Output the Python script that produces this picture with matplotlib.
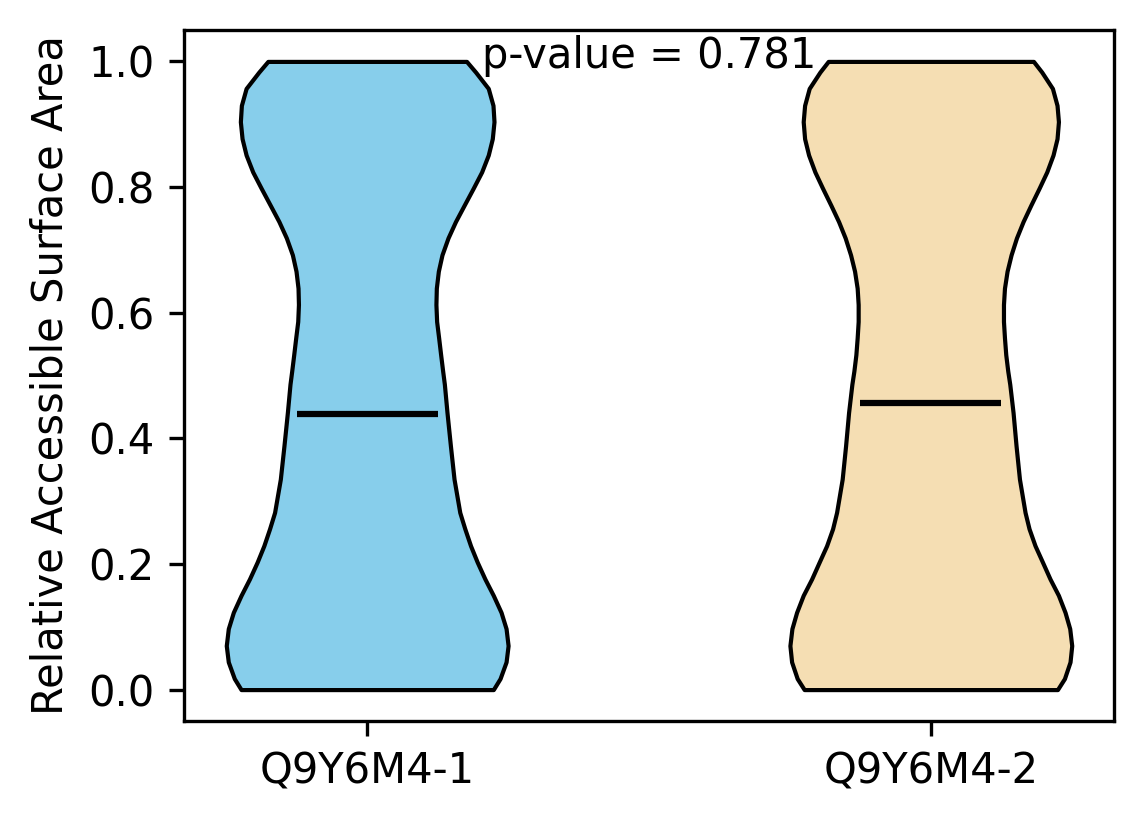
import numpy as np
import matplotlib.pyplot as plt

# groups and summary numbers
labels = ['Q9Y6M4-1', 'Q9Y6M4-2']
medians = [0.439, 0.456]
p_value = 0.781
colors = ['skyblue', 'wheat']

# RSA levels where the violin outline was read
rsa = [0.000, 0.0175, 0.044, 0.070, 0.097, 0.123, 0.150, 0.176, 0.203, 0.229,
       0.256, 0.282, 0.335, 0.388, 0.441, 0.486, 0.507, 0.533, 0.560, 0.586,
       0.613, 0.639, 0.666, 0.692, 0.719, 0.745, 0.771, 0.798, 0.824, 0.851,
       0.877, 0.904, 0.930, 0.957, 0.983, 1.000]

# relative density (half-width of the outline) at those levels
dens_1 = [125.3, 132, 138, 140, 138, 133, 125.3, 117, 109.3, 102.7,
          97, 92, 86.3, 82.7, 79.3, 76.7, 75, 73, 71, 69,
          68.3, 68.7, 70.7, 74.3, 80.3, 87.7, 96.3, 105.3, 113.7, 120.3,
          124.3, 126, 125, 120.3, 107.7, 98.7]
dens_2 = [126.7, 133.7, 139.3, 141, 139, 134.3, 127.7, 119.3, 111.7, 104.3,
          98.3, 94.3, 88.7, 85.3, 82.3, 79, 77, 75, 73.7, 72.7,
          72.7, 73.7, 76.3, 80.3, 85.7, 92.3, 100, 108.3, 116, 122.3,
          126.3, 127.7, 126.3, 121.7, 111, 102.7]

stats = []
for dens, med in [(dens_1, medians[0]), (dens_2, medians[1])]:
    coords = np.array(rsa)
    stats.append({'coords': coords, 'vals': np.array(dens, dtype=float),
                  'mean': med, 'median': med,
                  'min': coords.min(), 'max': coords.max()})

fig = plt.figure(figsize=(1144 / 300, 824 / 300), dpi=300)
ax = fig.add_axes([184 / 1144, 1 - 721 / 824, 930 / 1144, 691 / 824])

parts = ax.violin(stats, positions=[1, 2], widths=0.5,
                  showmeans=False, showextrema=False, showmedians=True)
for body, c in zip(parts['bodies'], colors):
    body.set_facecolor(c)
    body.set_edgecolor('black')
    body.set_linewidth(1)
    body.set_alpha(1)
parts['cmedians'].set_color('black')
parts['cmedians'].set_linewidth(1.5)

ax.set_xticks([1, 2], labels)
ax.set_xlim(0.675, 2.325)
ax.set_ylim(-0.05, 1.05)
ax.set_ylabel('Relative Accessible Surface Area')
ax.text(1.5, 0.989, f'p-value = {p_value}', ha='center', va='baseline', fontsize=10)

fig.savefig('out.png', dpi=300)
